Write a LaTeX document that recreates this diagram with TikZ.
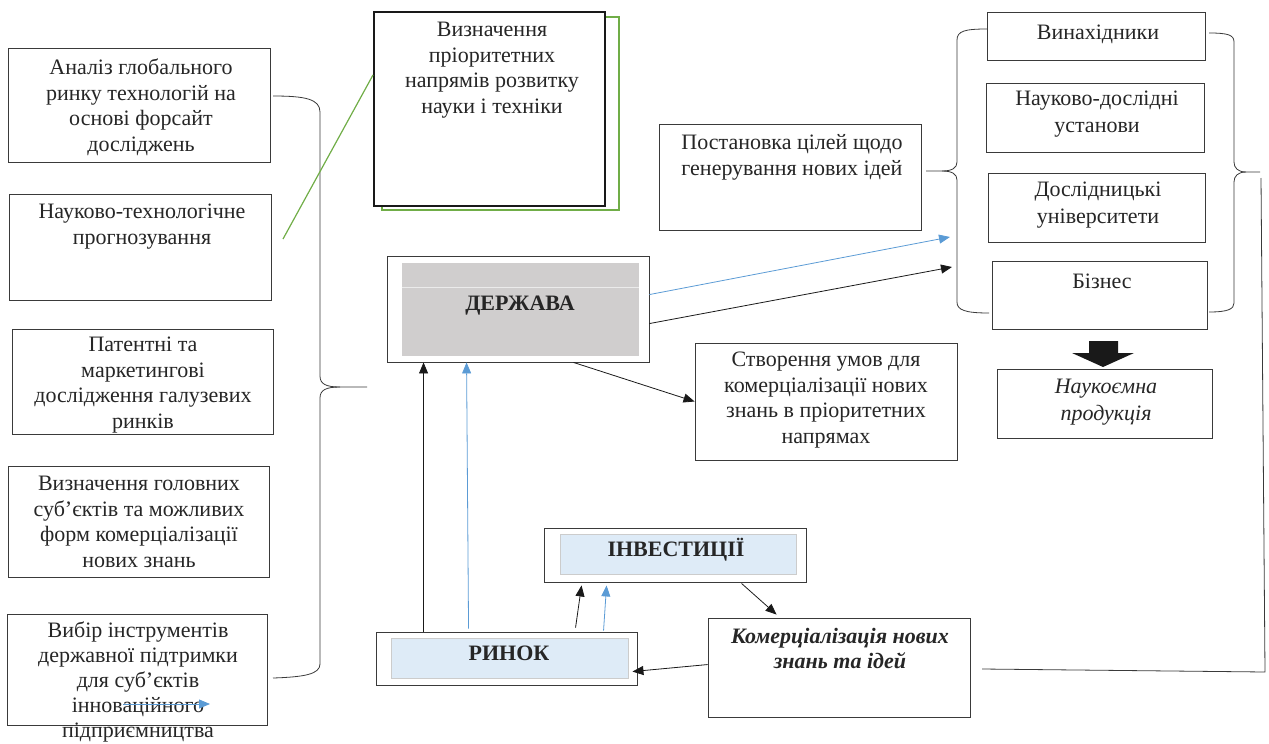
\documentclass[tikz,border=0pt]{standalone}
\usepackage{fontspec}
\setmainfont{Liberation Serif}
\usetikzlibrary{arrows.meta,fit,calc}
\definecolor{bordc}{HTML}{3A3A3A}
\definecolor{bluec}{HTML}{5B9BD5}
\definecolor{greenc}{HTML}{70AD47}
\definecolor{greyfill}{HTML}{D0CECE}
\definecolor{lbfill}{HTML}{DEEBF7}
\begin{document}
\begin{tikzpicture}[x=1pt,y=-1pt,
  box/.style={draw=bordc, line width=0.9pt, fill=white, inner sep=0pt},
  inbox/.style={draw=white!80!black, line width=0.4pt, inner sep=0pt},
  txt/.style={anchor=north, inner sep=0pt, align=center, text=black!85, font=\fontsize{22}{25.5}\selectfont, execute at begin node=\strut},
  txtw/.style={txt, font=\fontsize{22}{26.5}\selectfont},
  btxt/.style={anchor=base, inner sep=0pt, text=black!85, font=\fontsize{22}{26}\selectfont\bfseries},
  arr/.style={line width=0.8pt, draw=black!90, -{Triangle[length=11pt,width=9pt]}},
  barr/.style={arr, draw=bluec},
  brc/.style={draw=bordc, line width=0.8pt}
]
\useasboundingbox (0,0) rectangle (1269,744);

% left column
\node[box, fit={(8,48)(270,162)}] (a1) {};
\node[txt] (a1t) at (141,59) {Аналіз глобального\\ринку технологій на\\основі форсайт\\досліджень};
\node[box, fit={(9,194)(271,300)}] (a2) {};
\node[txt] (a2t) at (142,204) {Науково-технологічне\\прогнозування};
\node[box, fit={(12,329)(273,434)}] (a3) {};
\node[txt] (a3t) at (143,337) {Патентні та\\маркетингові\\дослідження галузевих\\ринків};
\node[box, fit={(8,466)(269,577)}] (a4) {};
\node[txt] (a4t) at (139,476) {Визначення головних\\суб’єктів та можливих\\форм комерціалізації\\нових знань};
\node[box, fit={(7,614)(267,725)}] (a5) {};
\node[txt, font=\fontsize{22}{25}\selectfont] (a5t) at (138,622) {Вибір інструментів\\державної підтримки\\для суб’єктів\\інноваційного\\підприємництва};
\coordinate (sb1) at (123,704);
\coordinate (sb2) at (210,704);
\draw[barr] (sb1) -- (sb2);

% left brace
\draw[brc] (273,96) .. controls (305,96) and (320,99) .. (320,112) -- (320,376) .. controls (320,384) and (326,387) .. (340,387) -- (367,387);
\draw[brc] (340,387) .. controls (326,387) and (320,390) .. (320,398) -- (320,664) .. controls (320,674) and (305,677) .. (273,678);

% top box with green shadow
\node[draw=greenc, line width=1.5pt, fill=white, inner sep=0pt, fit={(382,17)(619,210)}] (tbs) {};
\node[draw=black!90, line width=2pt, fill=white, inner sep=0pt, fit={(374,12)(605,206)}] (tb) {};
\node[txt] (tbt) at (492,22) {Визначення\\пріоритетних\\напрямів розвитку\\науки і техніки};
\coordinate (g1) at (283,239);
\coordinate (g2y) at (0,75);
\draw[greenc, line width=1.2pt] (g1) -- (tb.west |- g2y);

% ДЕРЖАВА
\node[box, fit={(387,256)(649,362)}] (d) {};
\node[fill=greyfill, inner sep=0pt, fit={(402,263)(639,356)}] (di) {};
\draw[white!92!black, line width=0.8pt] ([yshift=-25pt]di.north west) -- ([yshift=-25pt]di.north east);
\node[btxt] (dt) at (520,310) {ДЕРЖАВА};

% Постановка
\node[box, fit={(659,124)(921,230)}] (p) {};
\node[txtw] (pt) at (792,134) {Постановка цілей щодо\\генерування нових ідей};

% Створення
\node[box, fit={(695,343)(957,460)}] (s) {};
\node[txt] (st) at (826,352) {Створення умов для\\комерціалізації нових\\знань в пріоритетних\\напрямах};

% right group
\node[box, fit={(987,12)(1205,60)}] (r1) {};
\node[txt] (r1t) at (1098,21) {Винахідники};
\node[box, fit={(986,83)(1204,152)}] (r2) {};
\node[txtw] (r2t) at (1097,91) {Науково-дослідні\\установи};
\node[box, fit={(988,173)(1205,242)}] (r3) {};
\node[txtw] (r3t) at (1098,182) {Дослідницькі\\університети};
\node[box, fit={(992,261)(1207,329)}] (r4) {};
\node[txt] (r4t) at (1102,270) {Бізнес};
\node[box, fit={(997,369)(1212,438)}] (np) {};
\node[txtw, font=\fontsize{22}{26.5}\selectfont\itshape] (npt) at (1106,379) {Наукоємна\\продукція};
\fill[black!90] (1089,341) -- (1118,341) -- (1118,353) -- (1134,353) -- (1103,367) -- (1072,353) -- (1089,353) -- cycle;

% right-group braces
\draw[brc] (987,29) .. controls (965,29) and (957,31) .. (957,40) -- (957,162) .. controls (957,168) and (952,171) .. (942,171) -- (926,171);
\draw[brc] (942,171) .. controls (952,171) and (957,174) .. (957,180) -- (957,302) .. controls (957,310) and (965,313) .. (989,313);
\draw[brc] (1209,33) .. controls (1228,33) and (1234,35) .. (1234,42) -- (1234,162) .. controls (1234,168) and (1238,172) .. (1246,172) -- (1260,172);
\draw[brc] (1246,172) .. controls (1238,172) and (1234,176) .. (1234,182) -- (1234,303) .. controls (1234,309) and (1228,312) .. (1209,312);

% ІНВЕСТИЦІЇ
\node[box, fit={(544,528)(806,582)}] (i) {};
\node[inbox, fill=lbfill, fit={(560,534)(796,574)}] (ii) {};
\node[btxt] (it) at (676,556) {ІНВЕСТИЦІЇ};

% РИНОК
\node[box, fit={(376,632)(637,685)}] (rk) {};
\node[inbox, fill=lbfill, fit={(391,638)(628,678)}] (rki) {};
\node[btxt] (rkt) at (509,660) {РИНОК};

% Комерціалізація
\node[box, fit={(708,618)(970,717)}] (k) {};
\node[txt, font=\fontsize{22}{25}\selectfont\bfseries\itshape] (kt) at (840,628) {Комерціалізація нових\\знань та ідей};

% connectors
\coordinate (bl1) at (950,237);
\coordinate (bl2) at (952,267);
\draw[barr] ([yshift=-39pt]d.north east) -- (bl1);
\draw[arr] ([yshift=-68pt]d.north east) -- (bl2);
\draw[arr] ([xshift=187pt]d.south west) -- (s.west);
\draw[arr] ([xshift=48pt]rk.north west) -- ([xshift=37pt]d.south west);
\draw[barr] ([xshift=93pt,yshift=3pt]rk.north west) -- ([xshift=80pt]d.south west);
\draw[arr] ([xshift=200pt,yshift=4pt]rk.north west) -- ([xshift=38pt,yshift=-3pt]i.south west);
\draw[barr] ([xshift=228pt,yshift=1pt]rk.north west) -- ([xshift=63pt,yshift=-3pt]i.south west);
\draw[arr] ([xshift=198pt,yshift=-1pt]i.south west) -- ([xshift=69pt,yshift=3pt]k.north west);
\draw[arr] ([yshift=-47pt]k.north west) -- ([xshift=-5pt,yshift=-40pt]rk.north east);
\coordinate (kout) at (982,669);
\draw[brc] (kout) -- (1265,672) -- (1261,178);
\end{tikzpicture}
\end{document}
